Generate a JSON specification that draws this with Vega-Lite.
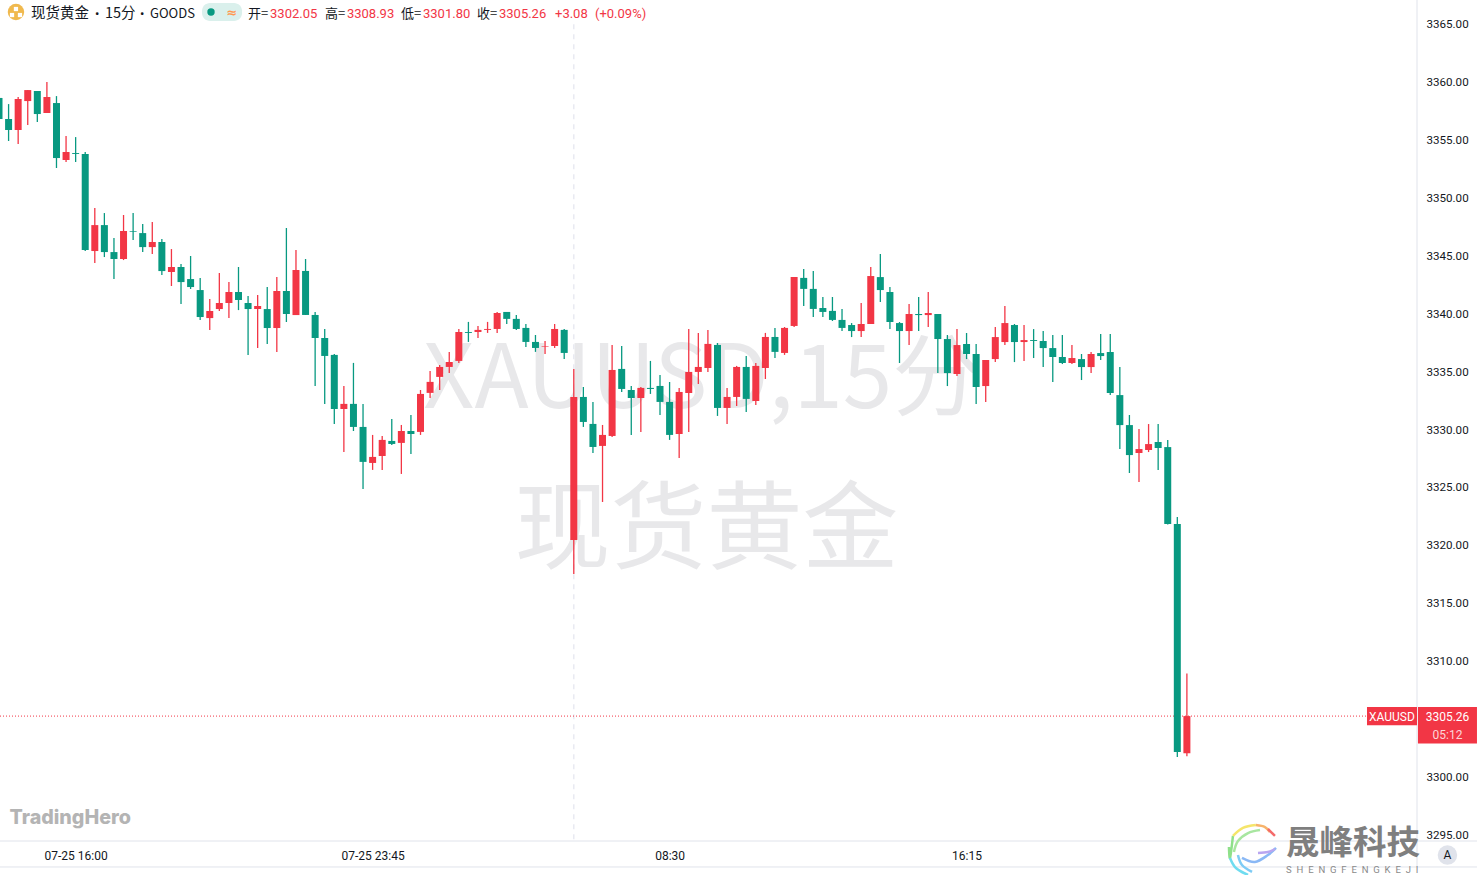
{"$schema":"https://vega.github.io/schema/vega-lite/v6.json","width":1417,"height":841,"autosize":{"type":"none"},"padding":{"left":0,"top":0,"right":60,"bottom":34},"background":"#ffffff","config":{"view":{"stroke":null},"text":{"font":"Noto Sans CJK SC"}},
"resolve":{"scale":{"color":"independent"}},
"datasets":{"bars":[
{"i":0,"o":3358.64,"h":3358.8,"l":3355.9,"c":3356.82,"d":"down"},
{"i":1,"o":3356.82,"h":3358.11,"l":3354.92,"c":3355.87,"d":"down"},
{"i":2,"o":3355.87,"h":3358.72,"l":3354.66,"c":3358.55,"d":"up"},
{"i":3,"o":3358.37,"h":3359.32,"l":3356.30,"c":3359.32,"d":"up"},
{"i":4,"o":3359.24,"h":3359.24,"l":3356.56,"c":3357.25,"d":"down"},
{"i":5,"o":3357.34,"h":3360.01,"l":3357.34,"c":3358.72,"d":"up"},
{"i":6,"o":3358.20,"h":3358.80,"l":3352.59,"c":3353.45,"d":"down"},
{"i":7,"o":3353.28,"h":3355.35,"l":3353.11,"c":3353.97,"d":"up"},
{"i":8,"o":3353.88,"h":3355.26,"l":3353.11,"c":3353.80,"d":"down"},
{"i":9,"o":3353.80,"h":3353.97,"l":3345.42,"c":3345.51,"d":"down"},
{"i":10,"o":3345.42,"h":3349.13,"l":3344.38,"c":3347.66,"d":"up"},
{"i":11,"o":3347.66,"h":3348.70,"l":3344.90,"c":3345.33,"d":"down"},
{"i":12,"o":3345.33,"h":3346.54,"l":3343.00,"c":3344.73,"d":"down"},
{"i":13,"o":3344.73,"h":3348.53,"l":3344.64,"c":3347.15,"d":"up"},
{"i":14,"o":3347.15,"h":3348.70,"l":3346.37,"c":3347.09,"d":"down"},
{"i":15,"o":3346.97,"h":3347.75,"l":3345.33,"c":3345.76,"d":"down"},
{"i":16,"o":3345.76,"h":3347.92,"l":3345.16,"c":3346.20,"d":"up"},
{"i":17,"o":3346.20,"h":3346.46,"l":3343.35,"c":3343.69,"d":"down"},
{"i":18,"o":3343.61,"h":3345.59,"l":3342.40,"c":3344.04,"d":"up"},
{"i":19,"o":3344.04,"h":3344.30,"l":3340.84,"c":3342.74,"d":"down"},
{"i":20,"o":3343.00,"h":3344.99,"l":3342.14,"c":3342.31,"d":"down"},
{"i":21,"o":3342.05,"h":3343.09,"l":3339.46,"c":3339.72,"d":"down"},
{"i":22,"o":3339.63,"h":3341.27,"l":3338.60,"c":3340.24,"d":"up"},
{"i":23,"o":3340.41,"h":3343.52,"l":3340.24,"c":3340.93,"d":"up"},
{"i":24,"o":3340.93,"h":3342.74,"l":3339.63,"c":3341.88,"d":"up"},
{"i":25,"o":3341.88,"h":3344.04,"l":3340.32,"c":3341.19,"d":"down"},
{"i":26,"o":3340.93,"h":3341.53,"l":3336.44,"c":3340.41,"d":"down"},
{"i":27,"o":3340.41,"h":3341.62,"l":3337.04,"c":3340.67,"d":"up"},
{"i":28,"o":3340.41,"h":3342.31,"l":3337.39,"c":3338.77,"d":"down"},
{"i":29,"o":3338.77,"h":3343.17,"l":3336.70,"c":3341.97,"d":"up"},
{"i":30,"o":3341.97,"h":3347.41,"l":3339.29,"c":3339.98,"d":"down"},
{"i":31,"o":3339.89,"h":3345.51,"l":3339.89,"c":3343.78,"d":"up"},
{"i":32,"o":3343.70,"h":3344.73,"l":3339.90,"c":3339.90,"d":"down"},
{"i":33,"o":3339.90,"h":3340.16,"l":3333.77,"c":3337.91,"d":"down"},
{"i":34,"o":3337.91,"h":3338.69,"l":3332.22,"c":3336.36,"d":"down"},
{"i":35,"o":3336.45,"h":3336.53,"l":3330.49,"c":3331.78,"d":"down"},
{"i":36,"o":3331.78,"h":3333.77,"l":3328.07,"c":3332.22,"d":"up"},
{"i":37,"o":3332.22,"h":3335.76,"l":3329.88,"c":3330.23,"d":"down"},
{"i":38,"o":3330.23,"h":3332.22,"l":3324.88,"c":3327.21,"d":"down"},
{"i":39,"o":3327.12,"h":3329.54,"l":3326.52,"c":3327.64,"d":"up"},
{"i":40,"o":3327.72,"h":3329.45,"l":3326.52,"c":3329.11,"d":"up"},
{"i":41,"o":3329.02,"h":3330.92,"l":3328.67,"c":3328.76,"d":"down"},
{"i":42,"o":3328.85,"h":3330.40,"l":3326.17,"c":3329.88,"d":"up"},
{"i":43,"o":3329.88,"h":3331.27,"l":3327.90,"c":3329.62,"d":"down"},
{"i":44,"o":3329.80,"h":3333.42,"l":3329.54,"c":3333.08,"d":"up"},
{"i":45,"o":3333.17,"h":3335.06,"l":3332.73,"c":3334.12,"d":"up"},
{"i":46,"o":3334.55,"h":3335.58,"l":3333.42,"c":3335.41,"d":"up"},
{"i":47,"o":3335.41,"h":3336.71,"l":3334.89,"c":3335.84,"d":"up"},
{"i":48,"o":3335.93,"h":3338.69,"l":3335.76,"c":3338.43,"d":"up"},
{"i":49,"o":3338.43,"h":3339.30,"l":3337.57,"c":3338.35,"d":"down"},
{"i":50,"o":3338.43,"h":3338.95,"l":3337.91,"c":3338.61,"d":"up"},
{"i":51,"o":3338.61,"h":3339.30,"l":3338.35,"c":3338.69,"d":"up"},
{"i":52,"o":3338.69,"h":3340.16,"l":3338.35,"c":3340.07,"d":"up"},
{"i":53,"o":3340.16,"h":3340.16,"l":3339.12,"c":3339.56,"d":"down"},
{"i":54,"o":3339.56,"h":3339.90,"l":3338.61,"c":3338.69,"d":"down"},
{"i":55,"o":3338.78,"h":3339.12,"l":3337.14,"c":3337.57,"d":"down"},
{"i":56,"o":3337.57,"h":3338.17,"l":3336.71,"c":3337.05,"d":"down"},
{"i":57,"o":3337.17,"h":3337.66,"l":3336.53,"c":3337.22,"d":"up"},
{"i":58,"o":3337.22,"h":3339.12,"l":3337.05,"c":3338.69,"d":"up"},
{"i":59,"o":3338.61,"h":3338.69,"l":3336.10,"c":3336.62,"d":"down"},
{"i":60,"o":3320.47,"h":3335.24,"l":3317.54,"c":3332.82,"d":"up"},
{"i":61,"o":3332.82,"h":3333.68,"l":3330.23,"c":3330.66,"d":"down"},
{"i":62,"o":3330.49,"h":3332.39,"l":3327.98,"c":3328.50,"d":"down"},
{"i":63,"o":3328.59,"h":3330.40,"l":3323.75,"c":3329.54,"d":"up"},
{"i":64,"o":3329.45,"h":3337.31,"l":3329.37,"c":3335.15,"d":"up"},
{"i":65,"o":3335.24,"h":3337.22,"l":3333.25,"c":3333.51,"d":"down"},
{"i":66,"o":3333.42,"h":3333.77,"l":3329.54,"c":3332.73,"d":"down"},
{"i":67,"o":3332.73,"h":3333.68,"l":3329.80,"c":3333.60,"d":"up"},
{"i":68,"o":3333.60,"h":3335.93,"l":3333.08,"c":3333.51,"d":"down"},
{"i":69,"o":3333.77,"h":3334.72,"l":3331.26,"c":3332.39,"d":"down"},
{"i":70,"o":3332.39,"h":3334.11,"l":3329.11,"c":3329.54,"d":"down"},
{"i":71,"o":3329.62,"h":3333.60,"l":3327.55,"c":3333.25,"d":"up"},
{"i":72,"o":3333.16,"h":3338.69,"l":3329.80,"c":3334.98,"d":"up"},
{"i":73,"o":3334.98,"h":3338.35,"l":3333.94,"c":3335.41,"d":"up"},
{"i":74,"o":3335.32,"h":3338.61,"l":3334.98,"c":3337.40,"d":"up"},
{"i":75,"o":3337.31,"h":3337.48,"l":3331.18,"c":3331.87,"d":"down"},
{"i":76,"o":3331.87,"h":3333.60,"l":3330.49,"c":3332.82,"d":"up"},
{"i":77,"o":3332.82,"h":3335.50,"l":3332.04,"c":3335.41,"d":"up"},
{"i":78,"o":3335.41,"h":3336.36,"l":3331.52,"c":3332.65,"d":"down"},
{"i":79,"o":3332.47,"h":3335.76,"l":3332.13,"c":3335.50,"d":"up"},
{"i":80,"o":3335.32,"h":3338.35,"l":3334.37,"c":3338.00,"d":"up"},
{"i":81,"o":3338.00,"h":3338.78,"l":3336.19,"c":3336.71,"d":"down"},
{"i":82,"o":3336.62,"h":3338.86,"l":3336.45,"c":3338.78,"d":"up"},
{"i":83,"o":3338.95,"h":3343.18,"l":3338.86,"c":3343.18,"d":"up"},
{"i":84,"o":3343.10,"h":3343.87,"l":3340.68,"c":3342.15,"d":"down"},
{"i":85,"o":3342.15,"h":3343.70,"l":3339.73,"c":3340.42,"d":"down"},
{"i":86,"o":3340.50,"h":3341.45,"l":3339.73,"c":3340.16,"d":"down"},
{"i":87,"o":3340.25,"h":3341.45,"l":3339.38,"c":3339.47,"d":"down"},
{"i":88,"o":3339.47,"h":3340.42,"l":3338.52,"c":3338.78,"d":"down"},
{"i":89,"o":3339.03,"h":3339.20,"l":3337.99,"c":3338.51,"d":"down"},
{"i":90,"o":3338.51,"h":3340.93,"l":3337.99,"c":3339.12,"d":"up"},
{"i":91,"o":3339.12,"h":3344.04,"l":3339.12,"c":3343.26,"d":"up"},
{"i":92,"o":3343.17,"h":3345.16,"l":3341.02,"c":3342.05,"d":"down"},
{"i":93,"o":3341.88,"h":3342.31,"l":3338.68,"c":3339.29,"d":"down"},
{"i":94,"o":3339.20,"h":3339.29,"l":3335.75,"c":3338.51,"d":"down"},
{"i":95,"o":3338.51,"h":3340.84,"l":3337.30,"c":3339.98,"d":"up"},
{"i":96,"o":3339.98,"h":3341.45,"l":3338.51,"c":3339.89,"d":"down"},
{"i":97,"o":3339.89,"h":3341.88,"l":3338.86,"c":3340.07,"d":"up"},
{"i":98,"o":3339.98,"h":3339.98,"l":3334.88,"c":3337.82,"d":"down"},
{"i":99,"o":3337.82,"h":3338.17,"l":3333.76,"c":3334.88,"d":"down"},
{"i":100,"o":3334.80,"h":3338.68,"l":3334.63,"c":3337.30,"d":"up"},
{"i":101,"o":3337.39,"h":3338.34,"l":3336.09,"c":3336.53,"d":"down"},
{"i":102,"o":3336.53,"h":3337.39,"l":3332.21,"c":3333.68,"d":"down"},
{"i":103,"o":3333.76,"h":3336.01,"l":3332.38,"c":3336.01,"d":"up"},
{"i":104,"o":3336.09,"h":3338.86,"l":3335.83,"c":3337.99,"d":"up"},
{"i":105,"o":3337.56,"h":3340.67,"l":3337.30,"c":3339.20,"d":"up"},
{"i":106,"o":3339.03,"h":3339.12,"l":3335.83,"c":3337.56,"d":"down"},
{"i":107,"o":3337.56,"h":3339.03,"l":3335.92,"c":3337.73,"d":"up"},
{"i":108,"o":3337.73,"h":3338.68,"l":3336.18,"c":3337.65,"d":"down"},
{"i":109,"o":3337.65,"h":3338.51,"l":3335.40,"c":3337.04,"d":"down"},
{"i":110,"o":3337.04,"h":3338.17,"l":3334.11,"c":3336.27,"d":"down"},
{"i":111,"o":3336.27,"h":3338.17,"l":3335.66,"c":3335.75,"d":"down"},
{"i":112,"o":3335.75,"h":3337.30,"l":3335.66,"c":3336.18,"d":"up"},
{"i":113,"o":3336.09,"h":3336.53,"l":3334.28,"c":3335.40,"d":"down"},
{"i":114,"o":3335.40,"h":3336.70,"l":3334.88,"c":3336.53,"d":"up"},
{"i":115,"o":3336.61,"h":3338.25,"l":3336.01,"c":3336.35,"d":"down"},
{"i":116,"o":3336.70,"h":3338.25,"l":3332.98,"c":3333.16,"d":"down"},
{"i":117,"o":3332.98,"h":3335.40,"l":3328.32,"c":3330.39,"d":"down"},
{"i":118,"o":3330.39,"h":3331.26,"l":3326.25,"c":3327.80,"d":"down"},
{"i":119,"o":3327.98,"h":3330.05,"l":3325.47,"c":3328.32,"d":"up"},
{"i":120,"o":3328.24,"h":3330.48,"l":3328.06,"c":3328.75,"d":"up"},
{"i":121,"o":3328.93,"h":3330.48,"l":3326.51,"c":3328.41,"d":"down"},
{"i":122,"o":3328.49,"h":3329.10,"l":3321.80,"c":3321.85,"d":"down"},
{"i":123,"o":3321.85,"h":3322.45,"l":3301.73,"c":3302.16,"d":"down"},
{"i":124,"o":3302.05,"h":3308.93,"l":3301.80,"c":3305.26,"d":"up"}
]},
"encoding":{
"x":{"field":"i","type":"quantitative","scale":{"domain":[0.104,148.02],"nice":false,"zero":false,"padding":0},"axis":{"values":[8,39,70,101],"title":null,"grid":false,"domain":false,"ticks":false,"tickSize":0,"labelPadding":9,"labelFont":"Roboto","labelFontSize":12,"labelColor":"#131722","labelExpr":"datum.value==8?'07-25 16:00':datum.value==39?'07-25 23:45':datum.value==70?'08:30':'16:15'"}},
"y":{"field":"p","type":"quantitative","scale":{"domain":[3294.473,3367.098],"nice":false,"zero":false},"axis":{"orient":"right","values":[3295,3300,3310,3315,3320,3325,3330,3335,3340,3345,3350,3355,3360,3365],"format":".2f","title":null,"grid":false,"domain":false,"ticks":false,"tickSize":0,"labelPadding":9,"labelOffset":0.5,"labelFont":"Roboto","labelFontSize":11.6,"labelColor":"#131722"}}
},
"layer":[
{"data":{"values":[{"i":73.4,"p":3334.2,"t":"XAUUSD,15分"}]},"mark":{"type":"text","fontSize":89,"color":"#e8e8ea","align":"center","baseline":"middle","font":"Noto Sans CJK SC"},"encoding":{"text":{"field":"t"}}},
{"data":{"values":[{"i":73.85,"p":3321.16,"t":"现货黄金"}]},"mark":{"type":"text","fontSize":96,"color":"#e8e8ea","align":"center","baseline":"middle","font":"Noto Sans CJK SC"},"encoding":{"text":{"field":"t"}}},
{"data":{"values":[{"i":60,"p":3365,"p2":3294.473}]},"mark":{"type":"rule","color":"#e9eaf2","strokeWidth":1.5,"strokeDash":[5,5]},"encoding":{"y2":{"field":"p2"}}},
{"data":{"values":[{"i":0.104,"i2":148.02,"p":3305.26}]},"mark":{"type":"rule","color":"#f23645","strokeWidth":1,"strokeDash":[1,2]},"encoding":{"x2":{"field":"i2"}}},
{"data":{"name":"bars"},"mark":{"type":"rule","strokeWidth":1.3},"encoding":{"y":{"field":"l","type":"quantitative","scale":{"domain":[3294.473,3367.098],"nice":false,"zero":false},"axis":{"orient":"right","values":[3295,3300,3310,3315,3320,3325,3330,3335,3340,3345,3350,3355,3360,3365],"format":".2f","title":null,"grid":false,"domain":false,"ticks":false,"tickSize":0,"labelPadding":9,"labelOffset":0.5,"labelFont":"Roboto","labelFontSize":11.6,"labelColor":"#131722"}},"y2":{"field":"h"},"color":{"field":"d","type":"nominal","scale":{"domain":["up","down"],"range":["#f23645","#089981"]},"legend":null}}},
{"data":{"name":"bars"},"mark":{"type":"bar","size":7},"encoding":{"y":{"field":"o","type":"quantitative","scale":{"domain":[3294.473,3367.098],"nice":false,"zero":false}},"y2":{"field":"c"},"color":{"field":"d","type":"nominal","scale":{"domain":["up","down"],"range":["#f23645","#089981"]},"legend":null}}},
{"data":{"values":[{"i":0.104,"i2":154.28,"p":3294.473},{"i":0.104,"i2":154.28,"p":3292.23}]},"mark":{"type":"rule","color":"#e0e3eb","strokeWidth":1,"clip":false},"encoding":{"x2":{"field":"i2"}}},
{"data":{"values":[{"i":148.02,"p":3367.098,"p2":3292.23}]},"mark":{"type":"rule","color":"#e0e3eb","strokeWidth":1,"clip":false},"encoding":{"y2":{"field":"p2"}}},
{"data":{"values":[{"i":142.8,"i2":148.02,"p":3306.04,"p2":3304.46},{"i":148.12,"i2":154.28,"p":3306.04,"p2":3302.89}]},"mark":{"type":"rect","color":"#f23645"},"encoding":{"x2":{"field":"i2"},"y2":{"field":"p2"}}},
{"data":{"values":[{"i":145.4,"p":3305.2,"t":"XAUUSD"},{"i":151.2,"p":3305.2,"t":"3305.26"}]},"mark":{"type":"text","font":"Roboto","fontSize":12,"color":"#ffffff","align":"center","baseline":"middle"},"encoding":{"text":{"field":"t"}}},
{"data":{"values":[{"i":151.2,"p":3303.65,"t":"05:12"}]},"mark":{"type":"text","font":"Roboto","fontSize":12,"color":"#fcd5d8","align":"center","baseline":"middle"},"encoding":{"text":{"field":"t"}}},
{"data":{"values":[{"i":1.77,"p":3366.06}]},"mark":{"type":"point","filled":true,"opacity":1,"size":270,"color":"#f0b94e","clip":false}},
{"data":{"values":[{"i":1.36,"p":3365.8},{"i":2.19,"p":3365.8},{"i":1.77,"p":3366.32}]},"mark":{"type":"square","size":18,"opacity":1,"color":"#ffffff"}},
{"data":{"values":[{"i":3.34,"p":3365.93,"t":"现货黄金"},{"i":11.06,"p":3365.93,"t":"15分"}]},"mark":{"type":"text","fontSize":14.5,"color":"#131722","align":"left","baseline":"middle","font":"Noto Sans CJK SC"},"encoding":{"text":{"field":"t"}}},
{"data":{"values":[{"i":10.02,"p":3365.93,"t":"•"},{"i":14.72,"p":3365.93,"t":"•"}]},"mark":{"type":"text","fontSize":13,"color":"#131722","align":"left","baseline":"middle","font":"Roboto"},"encoding":{"text":{"field":"t"}}},
{"data":{"values":[{"i":15.76,"p":3365.93,"t":"GOODS"},{"i":25.99,"p":3365.93,"t":"开="},{"i":34.03,"p":3365.93,"t":"高="},{"i":41.96,"p":3365.93,"t":"低="},{"i":49.9,"p":3365.93,"t":"收="}]},"mark":{"type":"text","fontSize":13,"color":"#131722","align":"left","baseline":"middle","font":"Noto Sans CJK SC"},"encoding":{"text":{"field":"t"}}},
{"data":{"values":[{"i":28.29,"p":3365.93,"t":"3302.05"},{"i":36.32,"p":3365.93,"t":"3308.93"},{"i":44.26,"p":3365.93,"t":"3301.80"},{"i":52.19,"p":3365.93,"t":"3305.26"},{"i":58.04,"p":3365.93,"t":"+3.08"},{"i":62.21,"p":3365.93,"t":"(+0.09%)"}]},"mark":{"type":"text","fontSize":13,"color":"#f23645","align":"left","baseline":"middle","font":"Roboto"},"encoding":{"text":{"field":"t"}}},
{"data":{"values":[{"i":21.19,"i2":25.37,"p":3366.84,"p2":3365.28}]},"mark":{"type":"rect","color":"#daf0ec","cornerRadius":8},"encoding":{"x2":{"field":"i2"},"y2":{"field":"p2"}}},
{"data":{"values":[{"i":22.13,"p":3366.06}]},"mark":{"type":"point","filled":true,"opacity":1,"size":55,"color":"#089981"}},
{"data":{"values":[{"i":24.32,"p":3366.0,"t":"≈"}]},"mark":{"type":"text","fontSize":13,"fontWeight":"bold","color":"#ff9850","align":"center","baseline":"middle","font":"DejaVu Sans"},"encoding":{"text":{"field":"t"}}},
{"data":{"values":[{"i":1.1,"p":3296.47,"t":"TradingHero"}]},"mark":{"type":"text","fontSize":19.7,"fontWeight":800,"color":"#b4b4b4","align":"left","baseline":"middle","font":"Inter"},"encoding":{"text":{"field":"t"}}},
{"data":{"values":[{"i":134.35,"p":3294.21,"t":"晟峰科技"}]},"mark":{"type":"text","fontSize":33.5,"fontWeight":"bold","color":"#7f7f7f","align":"left","baseline":"middle","font":"Noto Sans CJK SC","clip":false},"encoding":{"text":{"field":"t"}}},
{"data":{"values":[{"i":134.35,"p":3291.97,"t":"S\u2002H\u2002E\u2002N\u2002G\u2002F\u2002E\u2002N\u2002G\u2002K\u2002E\u2002J\u2002I"}]},"mark":{"type":"text","fontSize":9.5,"color":"#8a8a8a","align":"left","baseline":"middle","font":"Roboto"},"encoding":{"text":{"field":"t"}}},
{"data":{"values":[{"i":151.2,"p":3293.26}]},"mark":{"type":"point","filled":true,"opacity":1,"size":380,"color":"#e0e3eb"}},
{"data":{"values":[{"i":151.2,"p":3293.26,"t":"A"}]},"mark":{"type":"text","font":"Roboto","fontSize":12,"color":"#131722","align":"center","baseline":"middle"},"encoding":{"text":{"field":"t"}}},
{"data":{"values":[
{"s":"a","i":128.5,"p":3293.01},{"s":"a","i":128.39,"p":3293.96},{"s":"a","i":128.81,"p":3294.91},
{"s":"b","i":128.81,"p":3294.91},{"s":"b","i":129.85,"p":3295.6},{"s":"b","i":131.2,"p":3295.85},
{"s":"c","i":131.2,"p":3295.85},{"s":"c","i":132.15,"p":3295.68},{"s":"c","i":132.67,"p":3295.25},
{"s":"d","i":132.46,"p":3295.51},{"s":"d","i":133.19,"p":3294.91},
{"s":"e","i":128.5,"p":3293.01},{"s":"e","i":129.12,"p":3292.14},{"s":"e","i":130.38,"p":3291.54},
{"s":"f","i":128.91,"p":3293.52},{"s":"f","i":129.33,"p":3294.47},{"s":"f","i":130.38,"p":3295.16},{"s":"f","i":131.63,"p":3295.42},
{"s":"g","i":129.33,"p":3293.26},{"s":"g","i":129.75,"p":3292.4},{"s":"g","i":130.8,"p":3291.8},
{"s":"h","i":129.75,"p":3293.01},{"s":"h","i":131.1,"p":3292.66},{"s":"h","i":132.46,"p":3293.26},{"s":"h","i":133.3,"p":3293.87},
{"s":"j","i":131.42,"p":3293.44},{"s":"j","i":132.46,"p":3293.52},{"s":"j","i":133.19,"p":3293.78}
]},"mark":{"type":"line","strokeWidth":2.5,"interpolate":"cardinal","clip":false},"encoding":{"color":{"field":"s","type":"nominal","scale":{"domain":["a","b","c","d","e","f","g","h","j"],"range":["#8fe08a","#f5e56b","#f7b36b","#f46a6a","#6fdcf0","#a8e6a0","#7ecbf5","#8ab8f5","#b9a6f0"]},"legend":null},"order":null}}
]}
